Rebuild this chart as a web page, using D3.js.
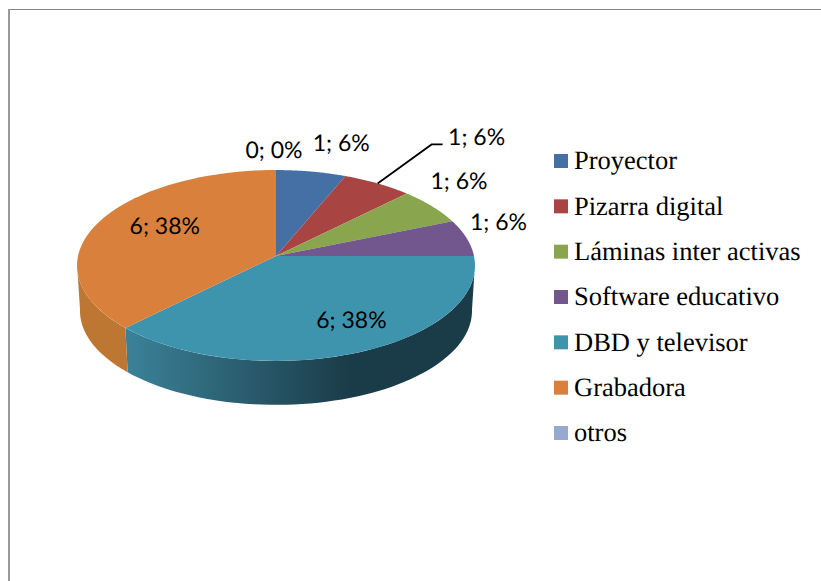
<!DOCTYPE html>
<html lang="es">
<head>
    <meta charset="UTF-8">
    <title>Recursos</title>
    <script src="https://d3js.org/d3.v7.min.js"></script>
    <style>
        html, body { margin: 0; padding: 0; background: #fff; }
        svg { display: block; }
        text { text-rendering: geometricPrecision; }
        .label { font-family: Lato, sans-serif; font-size: 23px; fill: #000; text-anchor: middle; }
        .legend text { font-family: "Liberation Serif", serif; font-size: 26.5px; fill: #000; }
    </style>
</head>
<body>
    <svg id="chart" width="821" height="581"></svg>
    <script>
        const categories = ["Proyector", "Pizarra digital", "Láminas inter activas", "Software educativo", "DBD y televisor", "Grabadora", "otros"];
        const values = [1, 1, 1, 1, 6, 6, 0];
        const colors = ["#4470a6", "#a84543", "#89a64e", "#72568e", "#3f94ad", "#d9813c", "#95a9d1"];
        const wallColors = { 4: ["#3b8299", "#1a3b48"], 5: ["#b5722f", "#bd7732"] };
        // label nudge from the rim point of each slice
        const labelOffsets = [[30, -29], [99, -46], [27, -25], [32, -16], [-8, -32], [65, 5], [-2, -20]];

        const svg = d3.select("#chart");

        // frame, only top and left are visible
        svg.append("line").attr("x1", 8).attr("x2", 821).attr("y1", 9.5).attr("y2", 9.5)
            .attr("stroke", "#868686").attr("stroke-width", 1);
        svg.append("line").attr("x1", 9).attr("x2", 9).attr("y1", 9).attr("y2", 581)
            .attr("stroke", "#9a9a9a").attr("stroke-width", 2);

        // perspective tilt of the pie
        const cx = 276, cy = 256, rx = 198, ry = 94.5, tilt = 0.0995;
        const depth = 45.5, bottomScale = 0.985;
        const project = (a, f = 1, drop = 0, scale = 1) => {
            const w = 1 + tilt * Math.cos(a) * f;
            return [
                cx + rx * scale * f * Math.sin(a) / w,
                cy + drop - ry * scale * f * Math.cos(a) / w
            ];
        };
        const rim = (a0, a1, drop, scale) => d3.range(0, 61).map(i => project(a0 + (a1 - a0) * i / 60, 1, drop, scale));
        const line = d3.line();

        const arcs = d3.pie().sort(null).value(d => d)(values);
        const total = d3.sum(values);
        const rad = d => d * Math.PI / 180;

        const defs = svg.append("defs");
        Object.keys(wallColors).forEach(i => {
            const a = arcs[i];
            const g = defs.append("linearGradient").attr("id", "wall" + i)
                .attr("gradientUnits", "userSpaceOnUse")
                .attr("x1", project(a.startAngle)[0]).attr("x2", project(a.endAngle)[0])
                .attr("y1", 0).attr("y2", 0);
            // teal runs dark to light going left, orange nearly flat
            g.append("stop").attr("offset", "0").attr("stop-color", wallColors[i][1]);
            g.append("stop").attr("offset", i == 4 ? "0.35" : "0.5").attr("stop-color", wallColors[i][1]);
            g.append("stop").attr("offset", "1").attr("stop-color", wallColors[i][0]);
        });

        // side walls, only the front of the pie shows them (widest points are a bit below centre)
        const frontStart = rad(95), frontEnd = rad(265);
        Object.keys(wallColors).forEach(i => {
            const a = arcs[i];
            const a0 = Math.max(a.startAngle, frontStart), a1 = Math.min(a.endAngle, frontEnd);
            const pts = rim(a0, a1, 0, 1).concat(rim(a1, a0, depth, bottomScale));
            svg.append("path").attr("d", line(pts) + "Z").attr("fill", `url(#wall${i})`);
        });

        // top face
        svg.append("g").selectAll("path")
            .data(arcs.filter(d => d.value > 0))
            .join("path")
            .attr("d", d => line([[cx, cy]].concat(rim(d.startAngle, d.endAngle, 0, 1))) + "Z")
            .attr("fill", d => colors[d.index]);

        // leader line for the second label
        const mid = d => (d.startAngle + d.endAngle) / 2;
        const anchor = project(mid(arcs[1]));
        const labelAt = [anchor[0] + labelOffsets[1][0], anchor[1] + labelOffsets[1][1]];
        svg.append("path")
            .attr("d", line([anchor, [labelAt[0] - 45, labelAt[1] + 7], [labelAt[0] - 34, labelAt[1] + 7]]))
            .attr("fill", "none").attr("stroke", "#000").attr("stroke-width", 1.8);

        svg.append("g").selectAll("text")
            .data(arcs)
            .join("text")
            .attr("class", "label")
            .attr("x", d => project(mid(d))[0] + labelOffsets[d.index][0])
            .attr("y", d => project(mid(d))[1] + labelOffsets[d.index][1])
            .attr("dy", "0.35em")
            .text(d => `${d.value}; ${Math.round(d.value / total * 100)}%`);

        // legend
        const legendY = d3.scalePoint().domain(categories).range([161, 433]);
        const legend = svg.append("g").attr("class", "legend").selectAll("g")
            .data(categories)
            .join("g")
            .attr("transform", d => `translate(554,${legendY(d)})`);
        legend.append("rect").attr("y", -7).attr("width", 14).attr("height", 14)
            .attr("fill", (d, i) => colors[i]);
        legend.append("text").attr("x", 20).attr("dy", "0.32em").text(d => d);
    </script>
</body>
</html>
